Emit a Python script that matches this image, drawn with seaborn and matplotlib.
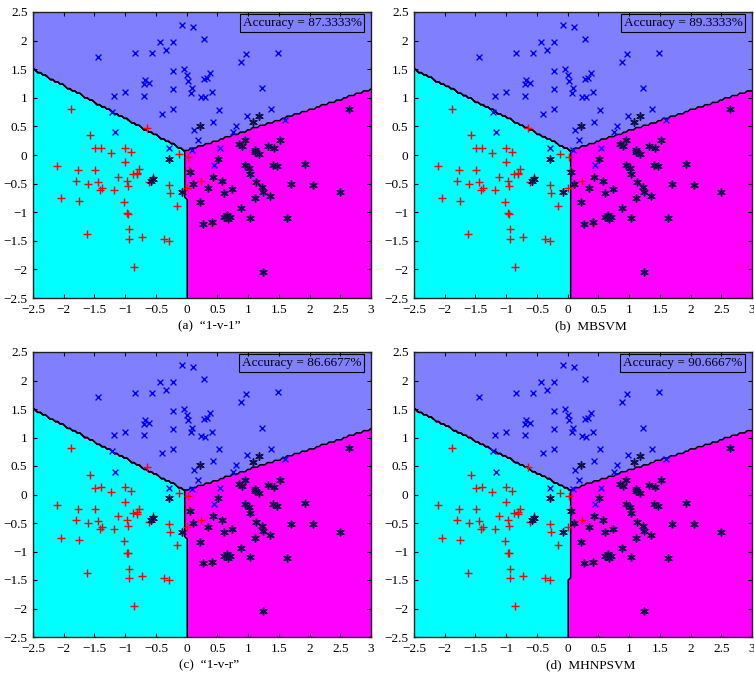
import matplotlib
matplotlib.use("Agg")
import matplotlib.pyplot as plt
import numpy as np
import pandas as pd
import seaborn as sns

# class "+" (cyan region)
red_x = [-1.88, -0.64, -1.57, -1.49, -1.39, -1.23, -1.01, -0.91, -0.12,
         -2.11, -1.76, -1.49, -1.80, -1.60, -1.44, -1.38, -1.41, -1.18, -1.12,
         -1.01, -0.97, -0.95, -0.88, -0.81, -0.78, -0.80, -0.62, -0.54, -2.04,
         -1.75, -1.02, -0.97, -0.95, -1.62, -0.94, -0.93, -0.73, -0.37, -0.28,
         -0.86, -0.28, -0.27, -0.16, 0.03, 0.04, 0.24, 0.00, 0.41]
red_y = [0.81, 0.48, 0.35, 0.12, 0.13, 0.04, 0.13, 0.06, 0.02,
         -0.19, -0.26, -0.26, -0.45, -0.50, -0.47, -0.57, -0.61, -0.61, -0.38,
         -0.13, -0.45, -0.55, -0.33, -0.31, -0.25, -0.34, -0.48, -0.38, -0.76,
         -0.80, -0.82, -1.02, -1.03, -1.38, -1.30, -1.47, -1.43, -1.46, -1.50,
         -1.95, -0.52, -0.66, -0.89, -0.03, -0.26, -0.45, -0.57, -1.20]

# class "x" (upper region)
blue_x = [-0.07, 0.10, 0.28, -0.43, -0.23, -1.44, -0.84, -0.57, -0.34, -0.23,
          -0.05, 0.00, 0.02, 0.28, -0.68, -0.61, -0.69, -0.23, 0.09, 0.07,
          0.23, -1.18, -1.01, -0.70, -0.22, -0.40, -1.21, -1.17, 0.12, 0.19,
          -0.29, 0.08, 0.96, 0.88, 1.49, 0.38, 0.33, 0.41, 0.30, 1.22,
          0.52, 0.43, 0.99, 1.38, 0.81, 1.60, 0.76, 0.54, 0.45]
blue_y = [2.27, 2.23, 2.02, 1.98, 1.98, 1.71, 1.78, 1.78, 1.83, 1.47,
          1.50, 1.40, 1.30, 1.33, 1.31, 1.26, 1.24, 1.15, 1.17, 1.09,
          1.02, 1.04, 1.10, 1.04, 0.80, 0.72, 0.76, 0.40, 0.43, 0.26,
          0.12, 0.09, 1.76, 1.62, 1.79, 1.43, 1.34, 1.10, 1.01, 1.17,
          0.79, 0.58, 0.69, 0.80, 0.51, 0.62, 0.40, 0.12, -0.17]

# class "*" (magenta region)
dark_x = [0.22, 2.65, 1.17, 1.08, 0.95, 0.86, 0.90, 1.11, 1.33, 1.42, 1.52,
          -0.28, -0.58, -0.55, -0.07, 0.06, 0.11, 0.22, 0.26,
          0.51, 0.95, 1.02, 1.03, 1.12, 1.17, 1.41, 1.47, 1.93, 0.43, 0.58,
          1.13, 1.22, 1.25, 0.74, 0.60, 0.35, 1.70, 2.05, 2.49, 1.36, 1.12,
          0.88, 0.61, 0.65, 0.68, 1.03, 1.64, 0.41, 1.25, 0.70]
dark_y = [0.51, 0.81, 0.68, 0.57, 0.26, 0.19, 0.15, 0.09, 0.16, 0.13, 0.26,
          -0.07, -0.45, -0.42, -0.65, -0.29, -0.50, -0.83, -1.21,
          -0.07, -0.17, -0.22, -0.33, 0.06, 0.02, -0.17, -0.20, -0.15, -0.38, -0.45,
          -0.48, -0.56, -0.64, -0.60, -0.66, -0.57, -0.51, -0.52, -0.65, -0.71, -0.76,
          -0.93, -1.08, -1.05, -1.12, -1.10, -1.11, -1.18, -2.05, -1.08]

# decision boundary read-offs per panel
captions = ["(a)  \u201c1-v-1\u201d", "(b)  MBSVM", "(c)  \u201c1-v-r\u201d", "(d)  MHNPSVM"]
accuracies = ["87.3333%", "89.3333%", "86.6677%", "90.6667%"]
left_edge_y = [1.50, 1.50, 1.50, 1.50]
right_edge_y = [1.15, 1.14, 1.15, 1.14]
junction_x = [-0.02, 0.04, -0.02, 0.03]
junction_y = [0.07, 0.08, 0.07, 0.08]
vert_top_x = [-0.03, 0.05, -0.03, 0.05]
kink_y = [-0.75, -0.45, -0.75, -1.50]
vert_bot_x = [0.02, 0.03, 0.02, 0.00]

REGION_COLORS = ["#00ffff", "#ff00ff", "#8080ff"]


def region_labels(xx, yy, i):
    jx, jy = junction_x[i], junction_y[i]
    left = left_edge_y[i] + (jy - left_edge_y[i]) * (xx + 2.5) / (jx + 2.5)
    right = jy + (right_edge_y[i] - jy) * (xx - jx) / (3.0 - jx)
    top = np.where(xx < jx, left, right)
    vx = np.where(yy > kink_y[i], vert_top_x[i], vert_bot_x[i])
    lab = np.where(xx < vx, 0, 1)
    return np.where(yy > top, 2, lab)


def main() -> None:
    plt.rcParams["font.family"] = ["Liberation Serif", "DejaVu Serif"]
    plt.rcParams["axes.unicode_minus"] = True

    points = pd.concat([
        pd.DataFrame({"x": red_x, "y": red_y, "cls": "plus"}),
        pd.DataFrame({"x": blue_x, "y": blue_y, "cls": "cross"}),
        pd.DataFrame({"x": dark_x, "y": dark_y, "cls": "star"}),
    ], ignore_index=True)
    styles = {
        "plus": ("+", "#ff0000", 32, 1.0),
        "cross": ("x", "#0000ff", 18, 1.0),
        "star": ((6, 2, 0), "#12124a", 28, 1.1),
    }

    # coarse-ish grid so the boundaries keep a slightly stepped look
    xs = np.linspace(-2.5, 3.0, 138)
    ys = np.linspace(-2.5, 2.5, 126)
    xx, yy = np.meshgrid(xs, ys)

    fig = plt.figure(figsize=(7.54, 6.82), dpi=100)
    positions = [
        (33, 12, 371, 298), (414, 12, 752, 298),
        (33, 352, 371, 637), (414, 352, 752, 637),
    ]
    W, H = 754, 682
    ticks_x = np.arange(-2.5, 3.01, 0.5)
    ticks_y = np.arange(-2.5, 2.51, 0.5)
    for i, (l, t, r, b) in enumerate(positions):
        ax = fig.add_axes([l / W, 1 - b / H, (r - l) / W, (b - t) / H])
        lab = region_labels(xx, yy, i)
        ax.contourf(xx, yy, lab, levels=[-0.5, 0.5, 1.5, 2.5], colors=REGION_COLORS,
                    antialiased=False)
        ax.contour(xx, yy, (lab == 2).astype(float), levels=[0.5], colors="black",
                   linewidths=1.1)
        ax.contour(xx, yy, (lab == 0).astype(float), levels=[0.5], colors="black",
                   linewidths=1.1)

        for cls, (marker, color, size, lw) in styles.items():
            sub = points[points["cls"] == cls]
            sns.scatterplot(data=sub, x="x", y="y", marker=marker, color=color,
                            s=size, linewidth=lw, ax=ax, legend=False, zorder=3)

        ax.set_xlim(-2.5, 3.0)
        ax.set_ylim(-2.5, 2.5)
        ax.set_xticks(ticks_x)
        ax.set_yticks(ticks_y)
        ax.set_xticklabels([f"{v:g}".replace("-", "\u2212") for v in ticks_x])
        ax.set_yticklabels([f"{v:g}".replace("-", "\u2212") for v in ticks_y])
        ax.tick_params(direction="in", length=3, width=0.8, labelsize=9.5,
                       top=True, right=True, pad=4)
        ax.set_xlabel("")
        ax.set_ylabel("")
        for sp in ax.spines.values():
            sp.set_linewidth(1.0)
            sp.set_color("#202020")
        ax.text(0.972, 0.982, f"Accuracy = {accuracies[i]}", transform=ax.transAxes,
                ha="right", va="top", fontsize=9.5,
                bbox=dict(boxstyle="square,pad=0.22", fc="none", ec="black", lw=0.8),
                zorder=5)
        cx = (l + r) / 2 / W + 0.01
        cy = 1 - (b + 28) / H
        fig.text(cx, cy, captions[i], ha="center", va="center", fontsize=9.5)

    fig.savefig("out.png", dpi=100)
    plt.close(fig)


if __name__ == "__main__":
    main()
